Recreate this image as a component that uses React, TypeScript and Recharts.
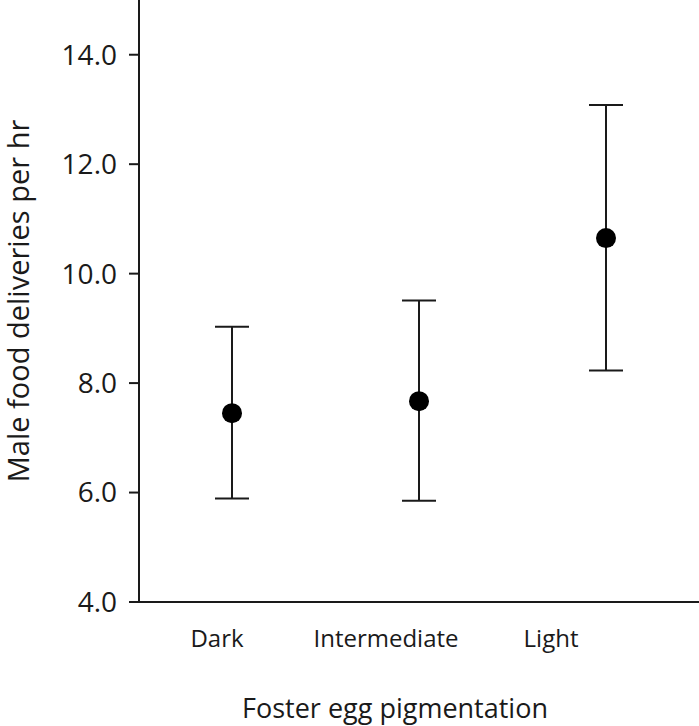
import {
  ComposedChart,
  Scatter,
  ErrorBar,
  XAxis,
  YAxis,
} from "recharts";

const categories = ["Dark", "Intermediate", "Light"];
const means = [7.45, 7.67, 10.65];
const upper = [9.03, 9.51, 13.08];
const lower = [5.89, 5.85, 8.23];
const yTicks = [4, 6, 8, 10, 12, 14];

const data = categories.map((cat, i) => ({
  cat,
  mean: means[i],
  err: [means[i] - lower[i], upper[i] - means[i]],
}));

const FONT = "'Open Sans', sans-serif";
const INK = "#1a1a1a";

// category labels in the original sit a little left of their points
const labelShift = [-15, -33, -55];

function CategoryTick(props: any) {
  const { x, y, payload, index } = props;
  return (
    <text
      x={x + (labelShift[index] ?? 0)}
      y={y + 45}
      textAnchor="middle"
      fontFamily={FONT}
      fontSize={24}
      fill={INK}
    >
      {payload.value}
    </text>
  );
}

function Dot(props: any) {
  const { cx, cy } = props;
  return <circle cx={cx} cy={cy} r={10} fill="#000" />;
}

export default function App() {
  return (
    <div style={{ position: "absolute", left: 0, top: 0 }}>
      <ComposedChart
        width={699}
        height={726}
        data={data}
        margin={{ top: 0, right: 0, bottom: 0, left: 0 }}
      >
        <XAxis
          dataKey="cat"
          type="category"
          height={124}
          padding={{ left: 93, right: 93 }}
          tickSize={0}
          tickMargin={0}
          tickLine={false}
          axisLine={{ stroke: INK, strokeWidth: 2 }}
          tick={<CategoryTick />}
          label={{
            content: (p: any) => {
              const vb = p.viewBox;
              return (
                <text
                  x={vb.x + vb.width / 2 - 24}
                  y={718}
                  textAnchor="middle"
                  fontFamily={FONT}
                  fontSize={27}
                  fill={INK}
                >
                  Foster egg pigmentation
                </text>
              );
            },
          }}
        />
        <YAxis
          type="number"
          domain={[4, 15]}
          ticks={yTicks}
          width={139}
          tickSize={10}
          tickMargin={12}
          tickFormatter={(v: number) => v.toFixed(1)}
          tick={{ fontFamily: FONT, fontSize: 28, fill: INK }}
          tickLine={{ stroke: INK, strokeWidth: 2 }}
          axisLine={{ stroke: INK, strokeWidth: 2 }}
          label={{
            content: (p: any) => {
              const vb = p.viewBox;
              const cy = vb.y + vb.height / 2;
              return (
                <text
                  x={29}
                  y={cy}
                  transform={`rotate(-90, 29, ${cy})`}
                  textAnchor="middle"
                  fontFamily={FONT}
                  fontSize={29}
                  fill={INK}
                >
                  Male food deliveries per hr
                </text>
              );
            },
          }}
        />
        <Scatter dataKey="mean" shape={<Dot />} isAnimationActive={false}>
          <ErrorBar
            dataKey="err"
            direction="y"
            width={17}
            stroke={INK}
            strokeWidth={2}
            isAnimationActive={false}
          />
        </Scatter>
      </ComposedChart>
    </div>
  );
}
